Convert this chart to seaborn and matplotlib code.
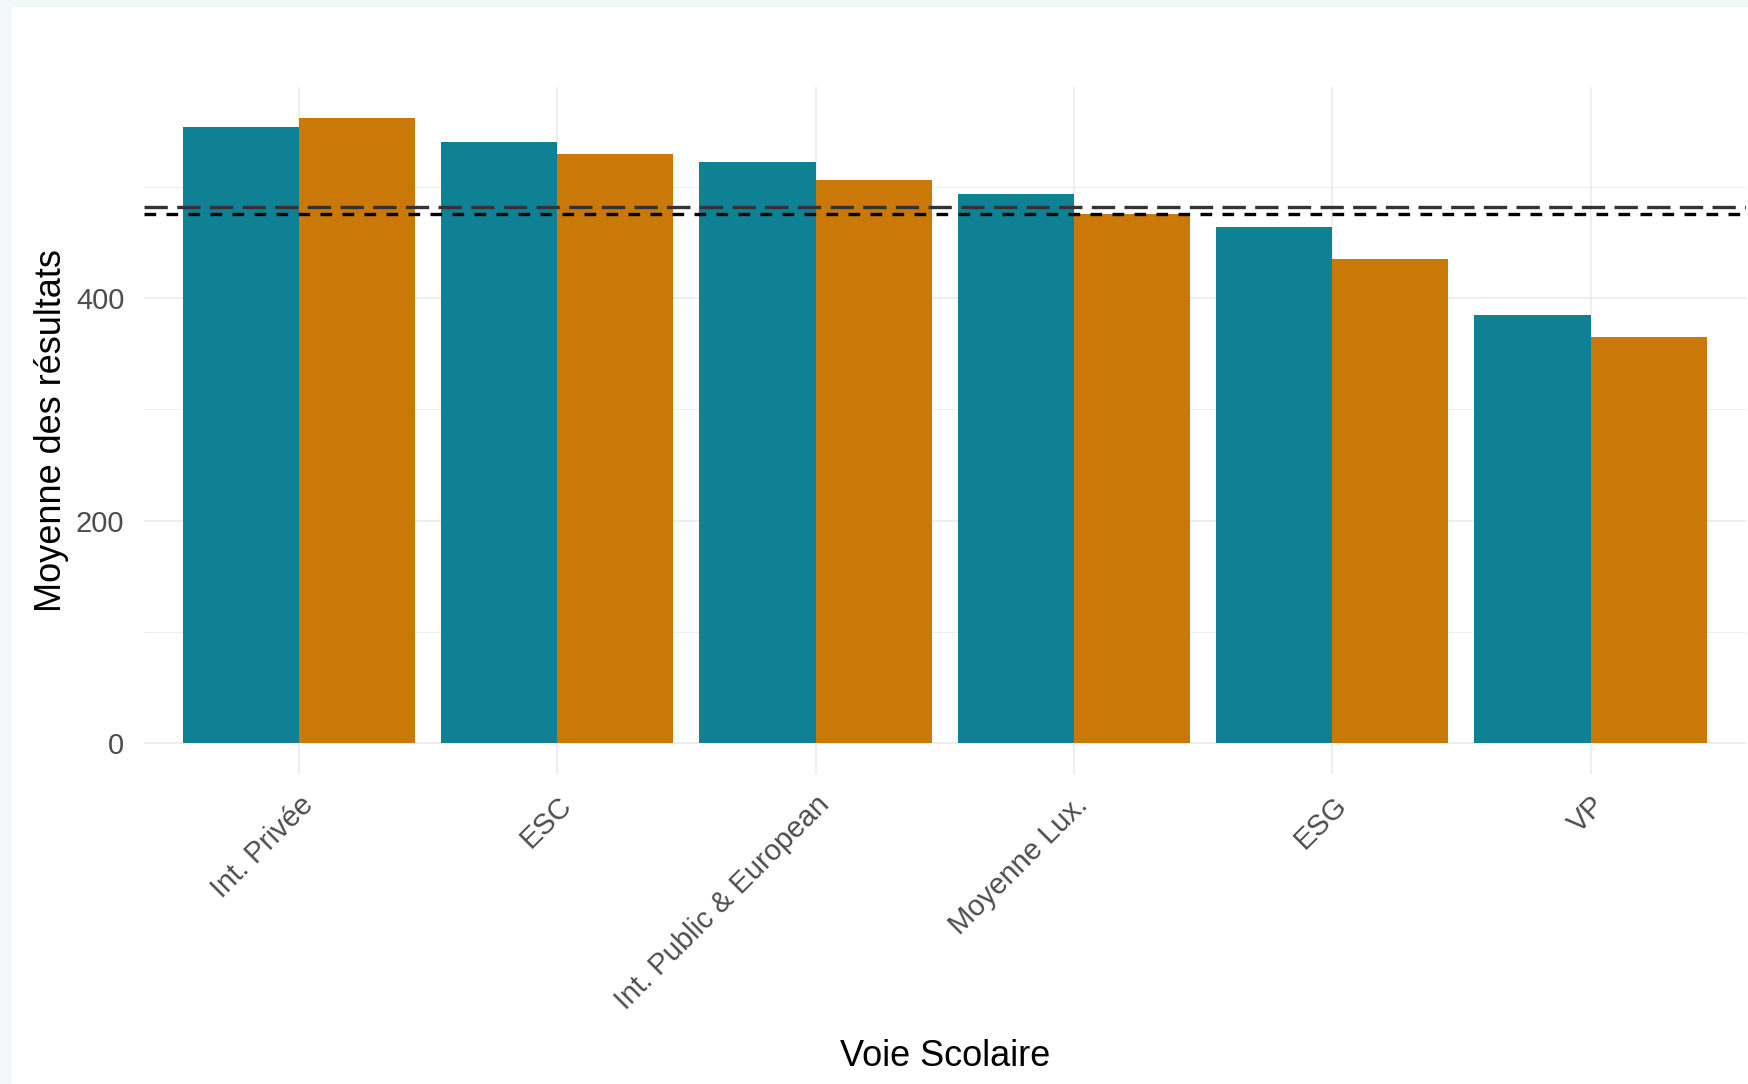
import pandas as pd
import numpy as np
import seaborn as sns
import matplotlib.pyplot as plt
from matplotlib.patches import Rectangle
from matplotlib.ticker import MultipleLocator

# Valeurs
voies = ["Int. Privée", "ESC", "Int. Public & European", "Moyenne Lux.", "ESG", "VP"]
groupe_1 = [554, 541, 523, 494, 464, 385]
groupe_2 = [562, 530, 506, 476, 435, 365]
ligne_haute = 482
ligne_basse = 476

data = pd.DataFrame({
    "voie": voies * 2,
    "moyenne": groupe_1 + groupe_2,
    "groupe": ["Groupe 1"] * len(voies) + ["Groupe 2"] * len(voies),
})

sns.set_theme(style="white")
plt.rcParams['font.family'] = ['Liberation Sans', 'DejaVu Sans']

fig = plt.figure(figsize=(17.49, 10.84), dpi=100, facecolor="white")
# bordure claire en haut et à gauche
fig.patches.append(Rectangle((0, 0), 11 / 1749, 1, transform=fig.transFigure,
                             facecolor="#f2f7f7", edgecolor="none", zorder=-10))
fig.patches.append(Rectangle((0, 1 - 7 / 1084), 1, 7 / 1084, transform=fig.transFigure,
                             facecolor="#f2f7f7", edgecolor="none", zorder=-10))
ax = fig.add_axes([0.0823, 0.286, 0.9157, 0.6337])
ax.set_facecolor("white")

sns.barplot(data=data, x="voie", y="moyenne", hue="groupe", order=voies,
            palette=["#0e8294", "#ca7808"], width=0.9, gap=0, linewidth=0,
            saturation=1, errorbar=None, legend=False, ax=ax)

# lignes de référence
ax.axhline(ligne_haute, color="#333333", lw=2.4, dashes=(7, 2.8))
ax.axhline(ligne_basse, color="black", lw=2.4, dashes=(3.5, 3.1))

ax.set_xlim(-0.6, len(voies) - 0.4)
ax.set_ylim(-0.05 * max(groupe_2), 1.05 * max(groupe_2))
ax.yaxis.set_major_locator(MultipleLocator(200))
ax.yaxis.set_minor_locator(MultipleLocator(100))
ax.set_axisbelow(True)
ax.grid(which="major", color="#ebebeb", lw=1.2)
ax.grid(which="minor", axis="y", color="#ebebeb", lw=0.6)
for s in ax.spines.values():
    s.set_visible(False)

ax.tick_params(axis="both", which="both", length=0, labelsize=21, labelcolor="#4d4d4d")
ax.tick_params(axis="y", pad=14)
ax.tick_params(axis="x", pad=12)
plt.setp(ax.get_xticklabels(), rotation=45, ha="right", va="top", rotation_mode="anchor")

ax.set_xlabel("Voie Scolaire", fontsize=26, color="black")
ax.set_ylabel("Moyenne des résultats", fontsize=26, color="black")
ax.xaxis.set_label_coords(0.5, -0.386)
ax.yaxis.set_label_coords(-0.047, 0.5)

fig.savefig("out.png", dpi=100, facecolor=fig.get_facecolor())
